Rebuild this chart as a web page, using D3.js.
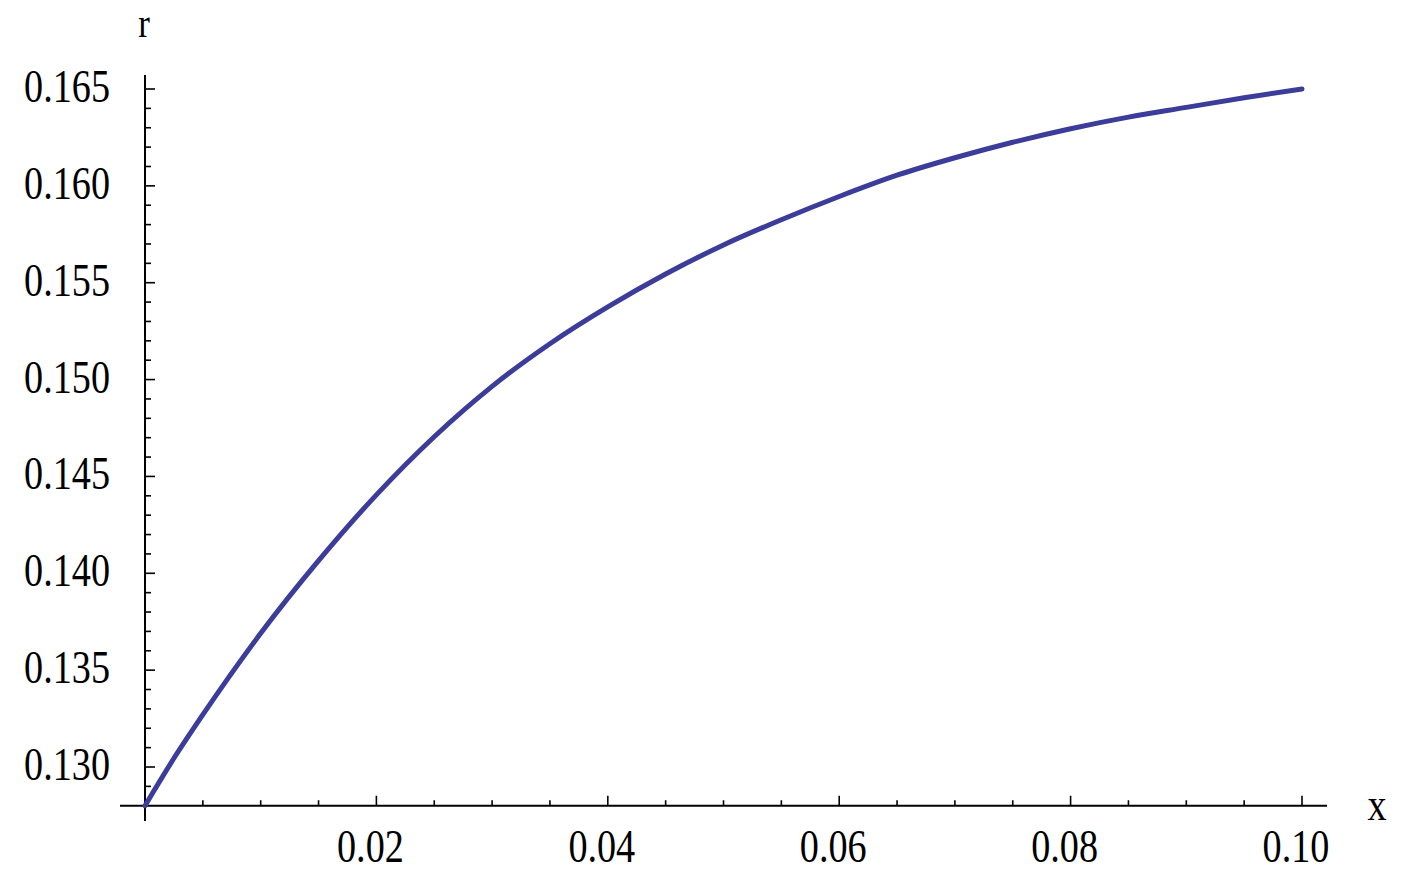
<!DOCTYPE html>
<html>
<head>
<meta charset="utf-8">
<script src="https://cdn.jsdelivr.net/npm/d3@7"></script>
<style>
  html, body { margin: 0; padding: 0; background: #fff; }
  svg { display: block; }
  text { font-family: "Liberation Serif", "Times New Roman", serif; fill: #000; }
</style>
</head>
<body>
<svg id="chart" width="1404" height="880"></svg>
<script>
// ---- data ----
const xValues = [0, 0.0025, 0.005, 0.01, 0.015, 0.02, 0.025, 0.03, 0.035, 0.04, 0.045, 0.05,
                 0.055, 0.06, 0.065, 0.07, 0.075, 0.08, 0.085, 0.09, 0.095, 0.10];
const rValues = [0.1280, 0.13045, 0.1327, 0.1369, 0.14065, 0.14405, 0.14705, 0.14965, 0.15185, 0.15375, 0.15545, 0.15695,
                 0.15825, 0.15945, 0.16055, 0.16145, 0.16225, 0.16295, 0.16355, 0.16405, 0.16455, 0.16500];
const xTickLabels = ["0.02", "0.04", "0.06", "0.08", "0.10"];
const xTickValues = [0.02, 0.04, 0.06, 0.08, 0.10];
const yTickLabels = ["0.130", "0.135", "0.140", "0.145", "0.150", "0.155", "0.160", "0.165"];
const yTickValues = [0.130, 0.135, 0.140, 0.145, 0.150, 0.155, 0.160, 0.165];
const xAxisLabel = "x";
const yAxisLabel = "r";

// ---- scales ----
const x = d3.scaleLinear().domain([0, 0.10]).range([145, 1302]);
const y = d3.scaleLinear().domain([0.130, 0.165]).range([767, 89]);
const yMin = 0.128;
const axisY = y(yMin);
const axisX = x(0);

const svg = d3.select("#chart");
const FS = 46, SX = 0.83;
const black = "#000";

// axes lines
svg.append("line").attr("x1", 120).attr("x2", 1327).attr("y1", axisY).attr("y2", axisY)
  .attr("stroke", black).attr("stroke-width", 2);
svg.append("line").attr("x1", axisX).attr("x2", axisX).attr("y1", 75).attr("y2", 821)
  .attr("stroke", black).attr("stroke-width", 2);

// x ticks
const xMinor = d3.range(0.005, 0.1001, 0.005).filter(v => Math.abs(v / 0.02 - Math.round(v / 0.02)) > 1e-6);
svg.append("g").selectAll("line").data(xMinor).join("line")
  .attr("x1", d => x(d)).attr("x2", d => x(d)).attr("y1", axisY).attr("y2", axisY - 5.5)
  .attr("stroke", black).attr("stroke-width", 1.6);
svg.append("g").selectAll("line").data(xTickValues).join("line")
  .attr("x1", d => x(d)).attr("x2", d => x(d)).attr("y1", axisY).attr("y2", axisY - 10)
  .attr("stroke", black).attr("stroke-width", 1.6);
svg.append("g").selectAll("text").data(xTickValues).join("text")
  .attr("transform", d => `translate(${x(d) - 6},862) scale(${SX},1)`)
  .attr("text-anchor", "middle").attr("font-size", FS)
  .text((d, i) => xTickLabels[i]);

// y ticks
const yMinor = d3.range(0.129, 0.1651, 0.001).filter(v => Math.abs(v / 0.005 - Math.round(v / 0.005)) > 1e-6);
svg.append("g").selectAll("line").data(yMinor).join("line")
  .attr("x1", axisX).attr("x2", axisX + 6).attr("y1", d => y(d)).attr("y2", d => y(d))
  .attr("stroke", black).attr("stroke-width", 1.6);
svg.append("g").selectAll("line").data(yTickValues).join("line")
  .attr("x1", axisX).attr("x2", axisX + 10).attr("y1", d => y(d)).attr("y2", d => y(d))
  .attr("stroke", black).attr("stroke-width", 1.6);
svg.append("g").selectAll("text").data(yTickValues).join("text")
  .attr("transform", d => `translate(110,${y(d) + 13}) scale(${SX},1)`)
  .attr("text-anchor", "end").attr("font-size", FS)
  .text((d, i) => yTickLabels[i]);

// axis labels
svg.append("text").attr("transform", `translate(144,37) scale(${SX},1)`)
  .attr("text-anchor", "middle").attr("font-size", 42).text(yAxisLabel);
svg.append("text").attr("transform", `translate(1377,820) scale(${SX},1)`)
  .attr("text-anchor", "middle").attr("font-size", FS).text(xAxisLabel);

// curve
const data = xValues.map((v, i) => [v, rValues[i]]);
const line = d3.line().x(d => x(d[0])).y(d => y(d[1])).curve(d3.curveMonotoneX);
svg.append("path").datum(data).attr("d", line)
  .attr("fill", "none").attr("stroke", "#3c3c9a").attr("stroke-width", 5)
  .attr("stroke-linecap", "round").attr("stroke-linejoin", "round");
</script>
</body>
</html>
